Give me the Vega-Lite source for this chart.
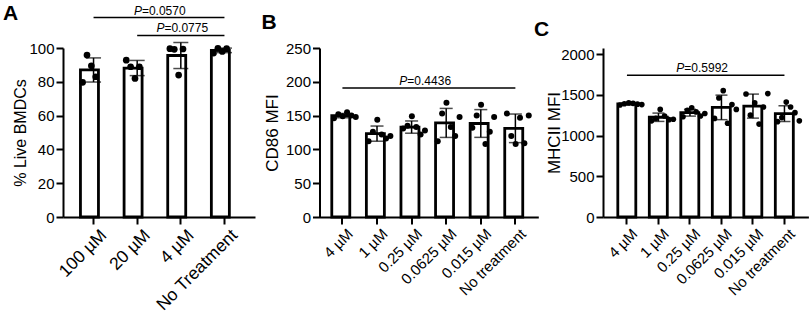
{
  "$schema": "https://vega.github.io/schema/vega-lite/v6.json",
  "background": "white",
  "padding": {"left": 3, "top": 2, "right": 0, "bottom": 0},
  "spacing": 64.5,
  "bounds": "flush",
  "datasets": {
    "A": [
      {"group": "100 µM", "rep": 1, "value": 79.7},
      {"group": "100 µM", "rep": 2, "value": 95.8},
      {"group": "100 µM", "rep": 3, "value": 89.5},
      {"group": "100 µM", "rep": 4, "value": 83},
      {"group": "20 µM", "rep": 1, "value": 92.8},
      {"group": "20 µM", "rep": 2, "value": 88.9},
      {"group": "20 µM", "rep": 3, "value": 82},
      {"group": "20 µM", "rep": 4, "value": 88.9},
      {"group": "4 µM", "rep": 1, "value": 99.6},
      {"group": "4 µM", "rep": 2, "value": 99.2},
      {"group": "4 µM", "rep": 3, "value": 84},
      {"group": "4 µM", "rep": 4, "value": 99.4},
      {"group": "No Treatment", "rep": 1, "value": 97},
      {"group": "No Treatment", "rep": 2, "value": 99.8},
      {"group": "No Treatment", "rep": 3, "value": 98},
      {"group": "No Treatment", "rep": 4, "value": 99.6}
    ],
    "B": [
      {"group": "4 µM", "rep": 1, "value": 146},
      {"group": "4 µM", "rep": 2, "value": 152},
      {"group": "4 µM", "rep": 3, "value": 149},
      {"group": "4 µM", "rep": 4, "value": 155},
      {"group": "4 µM", "rep": 5, "value": 150},
      {"group": "4 µM", "rep": 6, "value": 148},
      {"group": "1 µM", "rep": 1, "value": 112},
      {"group": "1 µM", "rep": 2, "value": 126},
      {"group": "1 µM", "rep": 3, "value": 144},
      {"group": "1 µM", "rep": 4, "value": 122},
      {"group": "1 µM", "rep": 5, "value": 116},
      {"group": "1 µM", "rep": 6, "value": 120},
      {"group": "0.25 µM", "rep": 1, "value": 131},
      {"group": "0.25 µM", "rep": 2, "value": 135},
      {"group": "0.25 µM", "rep": 3, "value": 149},
      {"group": "0.25 µM", "rep": 4, "value": 133},
      {"group": "0.25 µM", "rep": 5, "value": 122},
      {"group": "0.25 µM", "rep": 6, "value": 128},
      {"group": "0.0625 µM", "rep": 1, "value": 112},
      {"group": "0.0625 µM", "rep": 2, "value": 153},
      {"group": "0.0625 µM", "rep": 3, "value": 169},
      {"group": "0.0625 µM", "rep": 4, "value": 133},
      {"group": "0.0625 µM", "rep": 5, "value": 120},
      {"group": "0.0625 µM", "rep": 6, "value": 148},
      {"group": "0.015 µM", "rep": 1, "value": 132},
      {"group": "0.015 µM", "rep": 2, "value": 150},
      {"group": "0.015 µM", "rep": 3, "value": 166},
      {"group": "0.015 µM", "rep": 4, "value": 108},
      {"group": "0.015 µM", "rep": 5, "value": 126},
      {"group": "0.015 µM", "rep": 6, "value": 148},
      {"group": "No treatment", "rep": 1, "value": 153},
      {"group": "No treatment", "rep": 2, "value": 120},
      {"group": "No treatment", "rep": 3, "value": 108},
      {"group": "No treatment", "rep": 4, "value": 147},
      {"group": "No treatment", "rep": 5, "value": 109},
      {"group": "No treatment", "rep": 6, "value": 150}
    ],
    "C": [
      {"group": "4 µM", "rep": 1, "value": 1375},
      {"group": "4 µM", "rep": 2, "value": 1390},
      {"group": "4 µM", "rep": 3, "value": 1400},
      {"group": "4 µM", "rep": 4, "value": 1395},
      {"group": "4 µM", "rep": 5, "value": 1385},
      {"group": "4 µM", "rep": 6, "value": 1380},
      {"group": "1 µM", "rep": 1, "value": 1180},
      {"group": "1 µM", "rep": 2, "value": 1210},
      {"group": "1 µM", "rep": 3, "value": 1320},
      {"group": "1 µM", "rep": 4, "value": 1240},
      {"group": "1 µM", "rep": 5, "value": 1195},
      {"group": "1 µM", "rep": 6, "value": 1200},
      {"group": "0.25 µM", "rep": 1, "value": 1230},
      {"group": "0.25 µM", "rep": 2, "value": 1310},
      {"group": "0.25 µM", "rep": 3, "value": 1340},
      {"group": "0.25 µM", "rep": 4, "value": 1290},
      {"group": "0.25 µM", "rep": 5, "value": 1240},
      {"group": "0.25 µM", "rep": 6, "value": 1270},
      {"group": "0.0625 µM", "rep": 1, "value": 1210},
      {"group": "0.0625 µM", "rep": 2, "value": 1460},
      {"group": "0.0625 µM", "rep": 3, "value": 1550},
      {"group": "0.0625 µM", "rep": 4, "value": 1150},
      {"group": "0.0625 µM", "rep": 5, "value": 1380},
      {"group": "0.0625 µM", "rep": 6, "value": 1320},
      {"group": "0.015 µM", "rep": 1, "value": 1510},
      {"group": "0.015 µM", "rep": 2, "value": 1250},
      {"group": "0.015 µM", "rep": 3, "value": 1400},
      {"group": "0.015 µM", "rep": 4, "value": 1140},
      {"group": "0.015 µM", "rep": 5, "value": 1350},
      {"group": "0.015 µM", "rep": 6, "value": 1515},
      {"group": "No treatment", "rep": 1, "value": 1170},
      {"group": "No treatment", "rep": 2, "value": 1220},
      {"group": "No treatment", "rep": 3, "value": 1410},
      {"group": "No treatment", "rep": 4, "value": 1350},
      {"group": "No treatment", "rep": 5, "value": 1280},
      {"group": "No treatment", "rep": 6, "value": 1180}
    ],
    "bA1": [{"from": "100 µM", "to": "No Treatment", "mid": "20 µM", "value": 118, "p": "=0.0570"}],
    "bA2": [{"from": "20 µM", "to": "No Treatment", "mid": "20 µM", "value": 107.4, "p": "=0.0775"}],
    "bB": [{"from": "4 µM", "to": "No treatment", "mid": "0.25 µM", "value": 190.8, "p": "=0.4436"}],
    "bC": [{"from": "4 µM", "to": "No treatment", "mid": "0.25 µM", "value": 1739, "p": "=0.5992"}]
  },
  "hconcat": [
    {
      "width": 192,
      "height": 169,
      "title": {"text": "A", "anchor": "start", "frame": "group", "fontSize": 21, "fontWeight": "bold", "color": "black", "dx": -60, "dy": 23},
      "layer": [
        {
          "data": {"name": "A"},
          "mark": {"type": "bar", "fill": "white", "stroke": "black", "strokeWidth": 2.8},
          "encoding": {
            "x": {"field": "group", "type": "nominal", "title": null, "scale": {"domain": ["100 µM", "20 µM", "4 µM", "No Treatment"], "paddingInner": 0.4, "paddingOuter": 0.4}, "axis": {"labelAngle": -45, "labelFontSize": 17.5, "labelOffset": 4, "labelOverlap": false}},
            "y": {"aggregate": "mean", "field": "value", "type": "quantitative", "title": "% Live BMDCs", "scale": {"domain": [0, 100], "nice": false}, "axis": {"values": [0, 20, 40, 60, 80, 100], "format": "d", "titleFontSize": 16, "titlePadding": 0, "labelOverlap": false}}
          }
        },
        {
          "data": {"name": "A"},
          "mark": {"type": "errorbar", "extent": "stdev", "color": "black", "ticks": {"size": 15, "thickness": 1.5}, "rule": {"strokeWidth": 1.5}},
          "encoding": {
            "x": {"field": "group", "type": "nominal", "title": null},
            "y": {"field": "value", "type": "quantitative", "title": "% Live BMDCs", "axis": {"values": [0, 20, 40, 60, 80, 100], "format": "d", "titleFontSize": 16, "titlePadding": 0, "labelOverlap": false}}
          }
        },
        {
          "data": {"name": "A"},
          "mark": {"type": "circle", "color": "black", "size": 45, "opacity": 1},
          "encoding": {
            "x": {"field": "group", "type": "nominal", "title": null},
            "xOffset": {"field": "rep", "type": "nominal", "scale": {"type": "point", "padding": 0.5}},
            "y": {"field": "value", "type": "quantitative", "title": "% Live BMDCs", "axis": {"values": [0, 20, 40, 60, 80, 100], "format": "d", "titleFontSize": 16, "titlePadding": 0, "labelOverlap": false}}
          }
        },
        {
          "data": {"name": "bA1"},
          "layer": [
            {"mark": {"type": "rule", "color": "black", "strokeWidth": 1.5}, "encoding": {"x": {"field": "from", "type": "nominal", "title": null, "bandPosition": 0.5}, "x2": {"field": "to", "bandPosition": 0.5}, "y": {"field": "value", "type": "quantitative", "title": "% Live BMDCs", "axis": {"values": [0, 20, 40, 60, 80, 100], "format": "d", "titleFontSize": 16, "titlePadding": 0, "labelOverlap": false}}}},
            {"mark": {"type": "text", "align": "right", "baseline": "alphabetic", "dy": -3, "fontSize": 12, "fontStyle": "italic", "color": "black"}, "encoding": {"x": {"field": "mid", "type": "nominal", "title": null, "bandPosition": 0.68}, "y": {"field": "value", "type": "quantitative", "title": "% Live BMDCs", "axis": {"values": [0, 20, 40, 60, 80, 100], "format": "d", "titleFontSize": 16, "titlePadding": 0, "labelOverlap": false}}, "text": {"value": "P"}}},
            {"mark": {"type": "text", "align": "left", "baseline": "alphabetic", "dy": -3, "fontSize": 12, "color": "black"}, "encoding": {"x": {"field": "mid", "type": "nominal", "title": null, "bandPosition": 0.68}, "y": {"field": "value", "type": "quantitative", "title": "% Live BMDCs", "axis": {"values": [0, 20, 40, 60, 80, 100], "format": "d", "titleFontSize": 16, "titlePadding": 0, "labelOverlap": false}}, "text": {"field": "p"}}}
          ]
        },
        {
          "data": {"name": "bA2"},
          "layer": [
            {"mark": {"type": "rule", "color": "black", "strokeWidth": 1.5}, "encoding": {"x": {"field": "from", "type": "nominal", "title": null, "bandPosition": 0.5}, "x2": {"field": "to", "bandPosition": 0.5}, "y": {"field": "value", "type": "quantitative", "title": "% Live BMDCs", "axis": {"values": [0, 20, 40, 60, 80, 100], "format": "d", "titleFontSize": 16, "titlePadding": 0, "labelOverlap": false}}}},
            {"mark": {"type": "text", "align": "right", "baseline": "alphabetic", "dy": -3, "fontSize": 12, "fontStyle": "italic", "color": "black"}, "encoding": {"x": {"field": "mid", "type": "nominal", "title": null, "bandPosition": 1.54}, "y": {"field": "value", "type": "quantitative", "title": "% Live BMDCs", "axis": {"values": [0, 20, 40, 60, 80, 100], "format": "d", "titleFontSize": 16, "titlePadding": 0, "labelOverlap": false}}, "text": {"value": "P"}}},
            {"mark": {"type": "text", "align": "left", "baseline": "alphabetic", "dy": -3, "fontSize": 12, "color": "black"}, "encoding": {"x": {"field": "mid", "type": "nominal", "title": null, "bandPosition": 1.54}, "y": {"field": "value", "type": "quantitative", "title": "% Live BMDCs", "axis": {"values": [0, 20, 40, 60, 80, 100], "format": "d", "titleFontSize": 16, "titlePadding": 0, "labelOverlap": false}}, "text": {"field": "p"}}}
          ]
        }
      ]
    },
    {
      "width": 218.8,
      "height": 169,
      "title": {"text": "B", "anchor": "start", "frame": "group", "fontSize": 21, "fontWeight": "bold", "color": "black", "dx": -58, "dy": -4},
      "layer": [
        {
          "data": {"name": "B"},
          "mark": {"type": "bar", "fill": "white", "stroke": "black", "strokeWidth": 2.8},
          "encoding": {
            "x": {"field": "group", "type": "nominal", "title": null, "scale": {"domain": ["4 µM", "1 µM", "0.25 µM", "0.0625 µM", "0.015 µM", "No treatment"], "paddingInner": 0.385, "paddingOuter": 0.355}, "axis": {"labelAngle": -45, "labelOffset": 3, "labelOverlap": false}},
            "y": {"aggregate": "mean", "field": "value", "type": "quantitative", "title": "CD86 MFI", "scale": {"domain": [0, 250], "nice": false}, "axis": {"values": [0, 50, 100, 150, 200, 250], "format": "d", "labelOverlap": false}}
          }
        },
        {
          "data": {"name": "B"},
          "mark": {"type": "errorbar", "extent": "stdev", "color": "black", "ticks": {"size": 13, "thickness": 1.5}, "rule": {"strokeWidth": 1.5}},
          "encoding": {
            "x": {"field": "group", "type": "nominal", "title": null},
            "y": {"field": "value", "type": "quantitative", "title": "CD86 MFI", "axis": {"values": [0, 50, 100, 150, 200, 250], "format": "d", "labelOverlap": false}}
          }
        },
        {
          "data": {"name": "B"},
          "mark": {"type": "circle", "color": "black", "size": 36, "opacity": 1},
          "encoding": {
            "x": {"field": "group", "type": "nominal", "title": null},
            "xOffset": {"field": "rep", "type": "nominal", "scale": {"type": "point", "padding": 0.5}},
            "y": {"field": "value", "type": "quantitative", "title": "CD86 MFI", "axis": {"values": [0, 50, 100, 150, 200, 250], "format": "d", "labelOverlap": false}}
          }
        },
        {
          "data": {"name": "bB"},
          "layer": [
            {"mark": {"type": "rule", "color": "black", "strokeWidth": 1.5}, "encoding": {"x": {"field": "from", "type": "nominal", "title": null, "bandPosition": 0.5}, "x2": {"field": "to", "bandPosition": 0.5}, "y": {"field": "value", "type": "quantitative", "title": "CD86 MFI", "axis": {"values": [0, 50, 100, 150, 200, 250], "format": "d", "labelOverlap": false}}}},
            {"mark": {"type": "text", "align": "right", "baseline": "alphabetic", "dy": -3, "fontSize": 12, "fontStyle": "italic", "color": "black"}, "encoding": {"x": {"field": "mid", "type": "nominal", "title": null, "bandPosition": 0.3}, "y": {"field": "value", "type": "quantitative", "title": "CD86 MFI", "axis": {"values": [0, 50, 100, 150, 200, 250], "format": "d", "labelOverlap": false}}, "text": {"value": "P"}}},
            {"mark": {"type": "text", "align": "left", "baseline": "alphabetic", "dy": -3, "fontSize": 12, "color": "black"}, "encoding": {"x": {"field": "mid", "type": "nominal", "title": null, "bandPosition": 0.3}, "y": {"field": "value", "type": "quantitative", "title": "CD86 MFI", "axis": {"values": [0, 50, 100, 150, 200, 250], "format": "d", "labelOverlap": false}}, "text": {"field": "p"}}}
          ]
        }
      ]
    },
    {
      "width": 205.4,
      "height": 169,
      "title": {"text": "C", "anchor": "start", "frame": "group", "fontSize": 21, "fontWeight": "bold", "color": "black", "dx": -69, "dy": -3},
      "layer": [
        {
          "data": {"name": "C"},
          "mark": {"type": "bar", "fill": "white", "stroke": "black", "strokeWidth": 2.8},
          "encoding": {
            "x": {"field": "group", "type": "nominal", "title": null, "scale": {"domain": ["4 µM", "1 µM", "0.25 µM", "0.0625 µM", "0.015 µM", "No treatment"], "paddingInner": 0.42, "paddingOuter": 0.47}, "axis": {"labelAngle": -45, "labelOffset": 3, "labelOverlap": false}},
            "y": {"aggregate": "mean", "field": "value", "type": "quantitative", "title": "MHCII MFI", "scale": {"domain": [0, 2074], "nice": false}, "axis": {"values": [0, 500, 1000, 1500, 2000], "format": "d", "titlePadding": -3, "labelOverlap": false}}
          }
        },
        {
          "data": {"name": "C"},
          "mark": {"type": "errorbar", "extent": "stdev", "color": "black", "ticks": {"size": 12, "thickness": 1.5}, "rule": {"strokeWidth": 1.5}},
          "encoding": {
            "x": {"field": "group", "type": "nominal", "title": null},
            "y": {"field": "value", "type": "quantitative", "title": "MHCII MFI", "axis": {"values": [0, 500, 1000, 1500, 2000], "format": "d", "titlePadding": -3, "labelOverlap": false}}
          }
        },
        {
          "data": {"name": "C"},
          "mark": {"type": "circle", "color": "black", "size": 32, "opacity": 1},
          "encoding": {
            "x": {"field": "group", "type": "nominal", "title": null},
            "xOffset": {"field": "rep", "type": "nominal", "scale": {"type": "point", "padding": 0.5}},
            "y": {"field": "value", "type": "quantitative", "title": "MHCII MFI", "axis": {"values": [0, 500, 1000, 1500, 2000], "format": "d", "titlePadding": -3, "labelOverlap": false}}
          }
        },
        {
          "data": {"name": "bC"},
          "layer": [
            {"mark": {"type": "rule", "color": "black", "strokeWidth": 1.5}, "encoding": {"x": {"field": "from", "type": "nominal", "title": null, "bandPosition": 0.5}, "x2": {"field": "to", "bandPosition": 0.5}, "y": {"field": "value", "type": "quantitative", "title": "MHCII MFI", "axis": {"values": [0, 500, 1000, 1500, 2000], "format": "d", "titlePadding": -3, "labelOverlap": false}}}},
            {"mark": {"type": "text", "align": "right", "baseline": "alphabetic", "dy": -3, "fontSize": 12, "fontStyle": "italic", "color": "black"}, "encoding": {"x": {"field": "mid", "type": "nominal", "title": null, "bandPosition": 0.19}, "y": {"field": "value", "type": "quantitative", "title": "MHCII MFI", "axis": {"values": [0, 500, 1000, 1500, 2000], "format": "d", "titlePadding": -3, "labelOverlap": false}}, "text": {"value": "P"}}},
            {"mark": {"type": "text", "align": "left", "baseline": "alphabetic", "dy": -3, "fontSize": 12, "color": "black"}, "encoding": {"x": {"field": "mid", "type": "nominal", "title": null, "bandPosition": 0.19}, "y": {"field": "value", "type": "quantitative", "title": "MHCII MFI", "axis": {"values": [0, 500, 1000, 1500, 2000], "format": "d", "titlePadding": -3, "labelOverlap": false}}, "text": {"field": "p"}}}
          ]
        }
      ]
    }
  ],
  "config": {
    "font": "Liberation Sans",
    "view": {"stroke": null},
    "axis": {
      "domainColor": "black", "domainWidth": 2, "tickColor": "black", "tickWidth": 2, "tickSize": 7,
      "labelColor": "black", "labelFontSize": 15, "labelFont": "Liberation Sans", "labelPadding": 2, "labelOverlap": false,
      "titleColor": "black", "titleFont": "Liberation Sans", "titleFontSize": 17, "titleFontWeight": "normal",
      "grid": false
    },
    "title": {"font": "Liberation Sans"}
  }
}
